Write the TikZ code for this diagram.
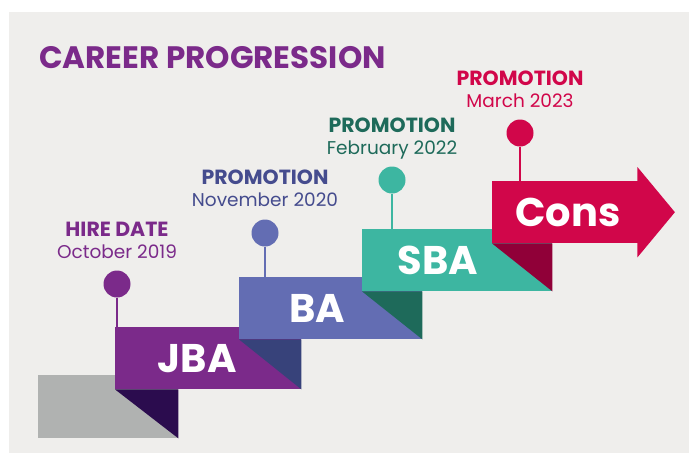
\documentclass[tikz,border=0pt]{standalone}
\usepackage{fontspec}
\setmainfont{Poppins}
\usetikzlibrary{arrows.meta}

\definecolor{panel}{HTML}{EFEEEC}
\definecolor{stepgray}{HTML}{B0B2B1}
\definecolor{jbapurple}{HTML}{7B2A8A}
\definecolor{jbadark}{HTML}{2B0C4E}
\definecolor{baviolet}{HTML}{636DB3}
\definecolor{badark}{HTML}{37427A}
\definecolor{batext}{HTML}{454C8E}
\definecolor{sbateal}{HTML}{3DB6A1}
\definecolor{sbadark}{HTML}{1E6A5A}
\definecolor{consred}{HTML}{D1064A}
\definecolor{consdark}{HTML}{900038}

\begin{document}
\begin{tikzpicture}[x=1pt,y=-1pt,
    stepbox/.style={anchor=north west,minimum height=62pt,inner sep=0pt},
    steptext/.style={text=white,font=\fontsize{40}{40}\selectfont\bfseries},
    pin/.style={circle,minimum size=27pt,inner sep=0pt},
    eventhead/.style={anchor=base,font=\fontsize{20.5}{20.5}\selectfont\bfseries},
    eventdate/.style={anchor=base,font=\fontsize{18.5}{18.5}\selectfont}]
    \useasboundingbox (0,0) rectangle (689,453);
    \fill[panel] (9,12) rectangle (689,453);

    \node[anchor=base west,text=jbapurple,inner sep=0pt,
          font=\fontsize{31}{31}\selectfont\bfseries] (title) at (39,68) {CAREER PROGRESSION};

    % steps
    \node[stepbox,fill=stepgray,minimum width=140pt,minimum height=63pt] (G) at (38,375) {};
    \node[stepbox,fill=jbapurple,minimum width=186pt] (JBA) at (115,327) {};
    \node[stepbox,fill=baviolet,minimum width=183pt] (BA) at (239,277) {};
    \node[stepbox,fill=sbateal,minimum width=190pt] (SBA) at (362,229) {};
    \node[stepbox,fill=consred,minimum width=145.5pt] (C) at (492,181) {};
    \fill[consred] ([xshift=-0.5pt,yshift=14pt]C.north east) -- ([xshift=37pt]C.east)
        -- ([xshift=-0.5pt,yshift=-14pt]C.south east) -- cycle;

    \fill[jbadark] (JBA.south west) -- (JBA.south west -| G.east) -- (G.south east) -- cycle;
    \fill[badark] (BA.south west) -- (BA.south west -| JBA.east) -- (JBA.south east) -- cycle;
    \fill[sbadark] (SBA.south west) -- (SBA.south west -| BA.east) -- (BA.south east) -- cycle;
    \fill[consdark] (C.south west) -- (C.south west -| SBA.east) -- (SBA.south east) -- cycle;

    \node[steptext] at ([xshift=82pt]JBA.west) {JBA};
    \node[steptext] at ([xshift=78pt]BA.west) {BA};
    \node[steptext] at ([xshift=76pt]SBA.west) {SBA};
    \node[steptext] at ([xshift=76pt]C.west) {Cons};

    % pins
    \node[pin,fill=jbapurple] (pJBA) at (117,284) {};
    \node[pin,fill=baviolet] (pBA) at (265,233) {};
    \node[pin,fill=sbateal] (pSBA) at (392,180) {};
    \node[pin,fill=consred] (pC) at (520,133) {};
    \draw[jbapurple,line width=1.5pt] (pJBA) -- (pJBA |- JBA.north);
    \draw[baviolet,line width=1.5pt] (pBA) -- (pBA |- BA.north);
    \draw[sbateal,line width=1.5pt] (pSBA) -- (pSBA |- SBA.north);
    \draw[consred,line width=1.5pt] (pC) -- (pC |- C.north);

    % events
    \node[eventhead,text=jbapurple] (hJBA) at (117,236) {HIRE DATE};
    \node[eventdate,text=jbapurple] (dJBA) at (117,258) {October 2019};
    \node[eventhead,text=batext] (hBA) at (265,184) {PROMOTION};
    \node[eventdate,text=batext] (dBA) at (265,206) {November 2020};
    \node[eventhead,text=sbadark] (hSBA) at (392,132) {PROMOTION};
    \node[eventdate,text=sbadark] (dSBA) at (392,154) {February 2022};
    \node[eventhead,text=consred] (hC) at (520,85) {PROMOTION};
    \node[eventdate,text=consred] (dC) at (520,107) {March 2023};
\end{tikzpicture}
\end{document}
